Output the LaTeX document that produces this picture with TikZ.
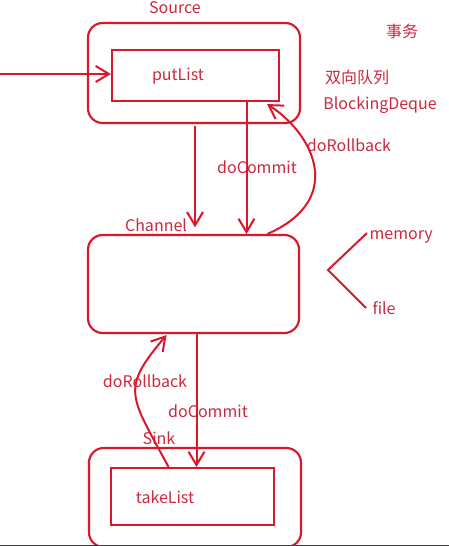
\documentclass[tikz,border=0pt]{standalone}
\usepackage{fontspec}
\newfontfamily\cjk{Noto Sans CJK SC}
\usetikzlibrary{arrows.meta,fit,calc}
\definecolor{linered}{RGB}{218,24,44}
\definecolor{textred}{RGB}{204,40,62}

\begin{document}
\begin{tikzpicture}[x=0.75pt, y=-0.75pt, >={Straight Barb[length=10pt,width=12pt]}]
    \tikzset{outer/.style={draw=linered, line width=1.6pt, rounded corners=11pt, inner sep=0pt},
             inner/.style={draw=linered, line width=1.6pt, inner sep=0pt},
             txt/.style={text=textred, font=\cjk\fontsize{12}{14}\selectfont, inner sep=1pt},
             flow/.style={draw=linered, line width=1.5pt, ->},
             wire/.style={draw=linered, line width=1.5pt}}
    \useasboundingbox[fill=white] (0,0) rectangle (449,546);
    % boxes
    \node[outer, fit={(88,23) (300,123)}] (source) {};
    \node[inner, fit={(112,50) (279,101)}] (putlist) {};
    \node[outer, fit={(88,235) (299,333)}] (channel) {};
    \node[outer, fit={(89,448) (301,547)}] (sink) {};
    \node[inner, fit={(111,468) (274,525)}] (takelist) {};
    % texts
    \node[txt] (sourcelabel) at (175,8) {Source};
    \node[txt] (putlabel) at (178,76) {putList};
    \node[txt] (tx) at (402,31) {事务};
    \node[txt] (deque) at (357,77) {双向队列};
    \node[txt] (blocking) at (380,105) {BlockingDeque};
    \node[txt] (rollup) at (349,145) {doRollback};
    \node[txt] (commitup) at (257,167) {doCommit};
    \node[txt] (channellabel) at (156,225) {Channel};
    \node[txt, anchor=west] (memory) at (368,237) {memory};
    \node[txt, anchor=west] (file) at (371,308) {file};
    \node[txt] (rolldown) at (145,381) {doRollback};
    \node[txt] (commitdown) at (208,411) {doCommit};
    \node[txt] (sinklabel) at (159,438) {Sink};
    \node[txt] (takelabel) at (165,497) {takeList};
    % connectors
    \coordinate (in) at (0,74);
    \draw[flow] (in) -- (in -| putlist.west);
    \draw[flow, shorten >=5pt] ($(source.south)+(1,2)$) -- ($(source.south |- channel.north)+(1,0)$);
    \draw[flow] ($(putlist.south)+(51,0)$) -- ($(putlist.south |- channel.north)+(51,0)$);
    \draw[flow] ($(channel.north)+(74,0)$) .. controls (345,200) and (315,135) .. ($(putlist.south east)+(-13,2)$);
    \draw[flow] ($(channel.south)+(3,0)$) -- ($(channel.south |- takelist.north)+(3,0)$);
    \draw[flow] ($(takelist.north)+(-24,0)$) .. controls (130,395) and (120,390) .. ($(channel.south)+(-27,1)$);
    \coordinate (fork) at (328,270);
    \draw[wire] ($(memory.west)+(-1,-4)$) -- (fork) -- ($(file.west)+(-5,0)$);
    \fill[black!75] (0,544.5) rectangle (449,546);
\end{tikzpicture}
\end{document}
